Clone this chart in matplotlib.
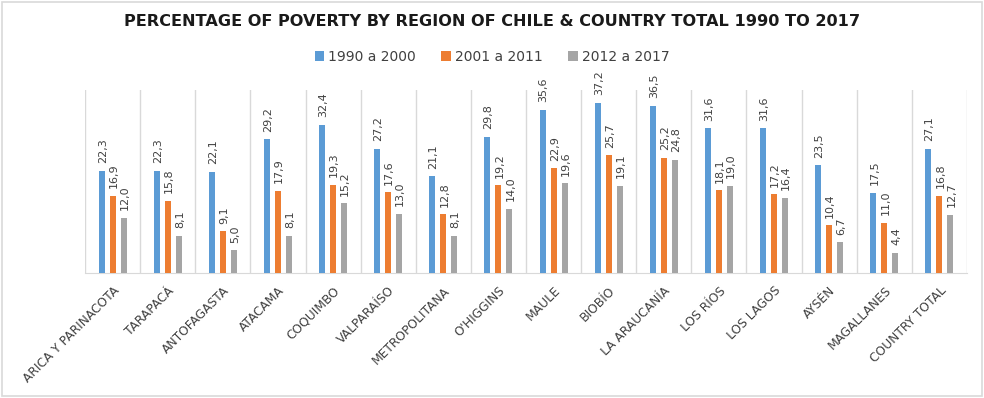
import numpy as np
import matplotlib
matplotlib.use("Agg")
import matplotlib.pyplot as plt
from matplotlib.patches import Rectangle

# === data ===
regions = ["ARICA Y PARINACOTA", "TARAPACÁ", "ANTOFAGASTA", "ATACAMA", "COQUIMBO",
           "VALPARAÍSO", "METROPOLITANA", "O'HIGGINS", "MAULE", "BIOBÍO",
           "LA ARAUCANÍA", "LOS RÍOS", "LOS LAGOS", "AYSÉN", "MAGALLANES", "COUNTRY TOTAL"]
series_names = ["1990 a 2000", "2001 a 2011", "2012 a 2017"]
p1990_2000 = [22.3, 22.3, 22.1, 29.2, 32.4, 27.2, 21.1, 29.8, 35.6, 37.2, 36.5, 31.6, 31.6, 23.5, 17.5, 27.1]
p2001_2011 = [16.9, 15.8, 9.1, 17.9, 19.3, 17.6, 12.8, 19.2, 22.9, 25.7, 25.2, 18.1, 17.2, 10.4, 11.0, 16.8]
p2012_2017 = [12.0, 8.1, 5.0, 8.1, 15.2, 13.0, 8.1, 14.0, 19.6, 19.1, 24.8, 19.0, 16.4, 6.7, 4.4, 12.7]

colors = ["#5B9BD5", "#ED7D31", "#A5A5A5"]
grid_col = "#D9D9D9"

fig = plt.figure(figsize=(9.84, 3.98), dpi=100)
ax = fig.add_axes([0.0864, 0.314, 0.8963, 0.46])

x = np.arange(len(regions))
width = 0.11
offsets = [-0.2, 0.0, 0.2]

for vals, name, col, off in zip([p1990_2000, p2001_2011, p2012_2017], series_names, colors, offsets):
    bars = ax.bar(x + off, vals, width=width, color=col, label=name, zorder=3)
    for b, v in zip(bars, vals):
        # etiquetas con coma decimal
        ax.annotate(f"{v:.1f}".replace(".", ","),
                    (b.get_x() + b.get_width() / 2, b.get_height()),
                    xytext=(0.8, 5.5), textcoords="offset points",
                    rotation=90, ha="center", va="bottom",
                    fontsize=8, color="#404040")

ax.set_xlim(-0.5, len(regions) - 0.5)
ax.set_ylim(0, 40)

# lineas verticales entre categorias
for b in np.arange(-0.5, len(regions), 1.0):
    ax.axvline(b, color=grid_col, lw=1, zorder=1)

for s in ["top", "left", "right"]:
    ax.spines[s].set_visible(False)
ax.spines["bottom"].set_color(grid_col)
ax.set_yticks([])
ax.set_xticks(x)
ax.set_xticklabels(regions, rotation=45, ha="right", va="top",
                   rotation_mode="anchor", fontsize=8.8, color="#404040")
ax.tick_params(axis="x", length=0, pad=8)

fig.suptitle("PERCENTAGE OF POVERTY BY REGION OF CHILE & COUNTRY TOTAL 1990 TO 2017",
             x=0.5, y=0.945, va="center", fontsize=11.6, fontweight="bold", color="#1a1a1a")

fig.legend(loc="center", bbox_to_anchor=(0.5, 0.857), ncol=3, frameon=False,
           fontsize=10, handlelength=0.7, handleheight=0.7, handletextpad=0.3,
           columnspacing=1.8, labelcolor="#404040")

# marco gris del grafico
fig.patches.append(Rectangle((0.002, 0.004), 0.996, 0.992, transform=fig.transFigure,
                             fill=False, edgecolor=grid_col, lw=1.2))

fig.savefig("out.png", dpi=100)
